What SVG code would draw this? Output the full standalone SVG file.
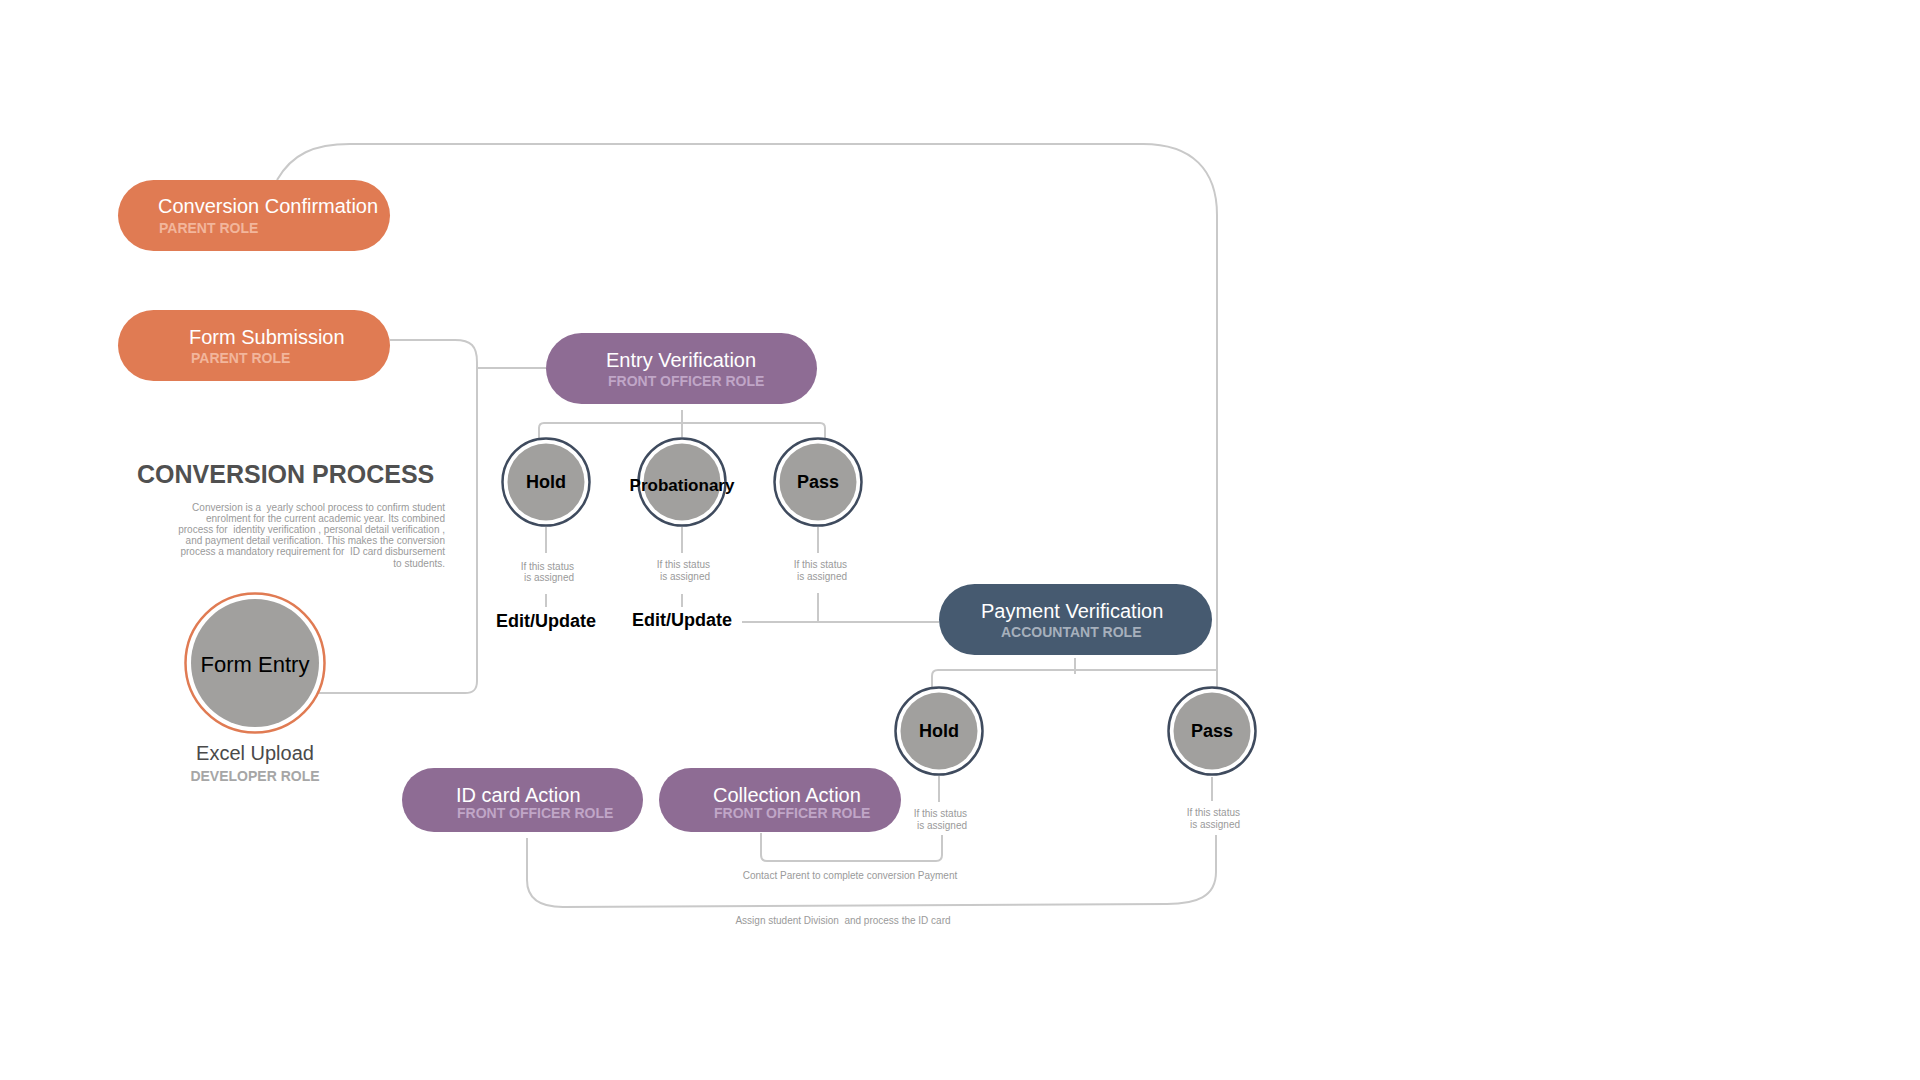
<svg xmlns="http://www.w3.org/2000/svg" width="1920" height="1080" viewBox="0 0 1920 1080" xml:space="preserve">
<defs>
<style>
text{font-family:"Liberation Sans",Arial,Helvetica,sans-serif}
.bg{fill:#ffffff}
.ln{fill:none;stroke:#c9c9c9;stroke-width:2}
.orange{fill:#e07b53}
.purple{fill:#8e6c94}
.navy{fill:#465a70}
.ttl{font-size:20px;fill:#ffffff}
.sub{font-size:14px;font-weight:bold}
.sub-o{fill:#f2b69c}
.sub-p{fill:#c0a6c7}
.sub-n{fill:#a6b0bc}
.ring{fill:#ffffff;stroke:#3f4b5e;stroke-width:2.5}
.ring-o{fill:#ffffff;stroke:#e07b53;stroke-width:2.5}
.core{fill:#a1a09e}
.st{font-size:18px;font-weight:bold;fill:#000000;text-anchor:middle}
.note{font-size:10px;fill:#9a9a9a}
.end{text-anchor:end}
.mid{text-anchor:middle}
.pre{white-space:pre}
</style>
</defs>
<rect class="bg" x="0" y="0" width="1920" height="1080"/>
<g id="connectors">
<path class="ln" d="M277,180 C292,154 314,144 350,144 H1143 C1192,144 1217,170 1217,215 V687"/>
<path class="ln" d="M390,340 H455 C471,340 477,346 477,362 V681 C477,690 473,693 465,693 H318"/>
<path class="ln" d="M477,368 H546"/>
<path class="ln" d="M682,410 V437"/>
<path class="ln" d="M539,438 V428 Q539,423 544,423 H820 Q825,423 825,428 V438"/>
<path class="ln" d="M546,527 V553 M546,594 V607"/>
<path class="ln" d="M682,527 V553 M682,594 V607"/>
<path class="ln" d="M818,527 V553 M818,593 V622"/>
<path class="ln" d="M742,622 H939"/>
<path class="ln" d="M1075,658 V674"/>
<path class="ln" d="M932,687 V676 Q932,670 938,670 H1217"/>
<path class="ln" d="M939,776 V802"/>
<path class="ln" d="M1212,777 V801"/>
<path class="ln" d="M942,835 V855 Q942,861 936,861 H767 Q761,861 761,855 V833"/>
<path class="ln" d="M1216,835 V872 C1216,897 1196,904 1167,904 L563,907 C538,907 527,897 527,880 V838"/>
<g id="status-labels">
<text class="note end" x="574" y="570">If this status</text>
<text class="note end" x="574" y="581">is assigned</text>
<text class="note end" x="710" y="568">If this status</text>
<text class="note end" x="710" y="580">is assigned</text>
<text class="note end" x="847" y="568">If this status</text>
<text class="note end" x="847" y="580">is assigned</text>
<text class="note end" x="967" y="817">If this status</text>
<text class="note end" x="967" y="829">is assigned</text>
<text class="note end" x="1240" y="816">If this status</text>
<text class="note end" x="1240" y="828">is assigned</text>
<text class="note mid" x="850" y="879">Contact Parent to complete conversion Payment</text>
<text class="note mid pre" x="843" y="924">Assign student Division  and process the ID card</text>
</g>
</g>
<g id="title">
<text x="137" y="483" style="font-size:25px;font-weight:bold;fill:#505050">CONVERSION PROCESS</text>
<text class="note end pre" x="445" y="511">Conversion is a  yearly school process to confirm student</text>
<text class="note end pre" x="445" y="522">enrolment for the current academic year. Its combined</text>
<text class="note end pre" x="445" y="533">process for  identity verification , personal detail verification ,</text>
<text class="note end pre" x="445" y="544">and payment detail verification. This makes the conversion</text>
<text class="note end pre" x="445" y="555">process a mandatory requirement for  ID card disbursement</text>
<text class="note end pre" x="445" y="567">to students.</text>
</g>
<g id="node-conversion-confirmation">
<rect class="orange" x="118" y="180" width="272" height="71" rx="35.5"/>
<text class="ttl" x="158" y="213">Conversion Confirmation</text>
<text class="sub sub-o" x="159" y="233">PARENT ROLE</text>
</g>
<g id="node-form-submission">
<rect class="orange" x="118" y="310" width="272" height="71" rx="35.5"/>
<text class="ttl" x="189" y="344">Form Submission</text>
<text class="sub sub-o" x="191" y="363">PARENT ROLE</text>
</g>
<g id="node-entry-verification">
<rect class="purple" x="546" y="333" width="271" height="71" rx="35.5"/>
<text class="ttl" x="606" y="367">Entry Verification</text>
<text class="sub sub-p" x="608" y="386">FRONT OFFICER ROLE</text>
</g>
<g id="node-entry-hold">
<circle class="ring" cx="546" cy="482" r="43.5"/>
<circle class="core" cx="546" cy="482" r="38.5"/>
<text class="st" x="546" y="488">Hold</text>
</g>
<g id="node-entry-probationary">
<circle class="ring" cx="682" cy="482" r="43.5"/>
<circle class="core" cx="682" cy="482" r="38.5"/>
<text class="st" x="682" y="491" style="font-size:17px">Probationary</text>
</g>
<g id="node-entry-pass">
<circle class="ring" cx="818" cy="482" r="43.5"/>
<circle class="core" cx="818" cy="482" r="38.5"/>
<text class="st" x="818" y="488">Pass</text>
</g>
<g id="node-edit-update-1">
<text class="st" x="546" y="627">Edit/Update</text>
</g>
<g id="node-edit-update-2">
<text class="st" x="682" y="626">Edit/Update</text>
</g>
<g id="node-form-entry">
<circle class="ring-o" cx="255" cy="663" r="69.5"/>
<circle class="core" cx="255" cy="663" r="64"/>
<text x="255" y="672" style="font-size:22px;fill:#000000;text-anchor:middle">Form Entry</text>
<text x="255" y="760" style="font-size:20px;fill:#4a4a4a;text-anchor:middle">Excel Upload</text>
<text x="255" y="781" style="font-size:14px;font-weight:bold;fill:#a6a6a6;text-anchor:middle">DEVELOPER ROLE</text>
</g>
<g id="node-payment-verification">
<rect class="navy" x="939" y="584" width="273" height="71" rx="35.5"/>
<text class="ttl" x="981" y="618">Payment Verification</text>
<text class="sub sub-n" x="1001" y="637">ACCOUNTANT ROLE</text>
</g>
<g id="node-payment-hold">
<circle class="ring" cx="939" cy="731" r="43.5"/>
<circle class="core" cx="939" cy="731" r="38.5"/>
<text class="st" x="939" y="737">Hold</text>
</g>
<g id="node-payment-pass">
<circle class="ring" cx="1212" cy="731" r="43.5"/>
<circle class="core" cx="1212" cy="731" r="38.5"/>
<text class="st" x="1212" y="737">Pass</text>
</g>
<g id="node-id-card-action">
<rect class="purple" x="402" y="768" width="241" height="64" rx="32"/>
<text class="ttl" x="456" y="802">ID card Action</text>
<text class="sub sub-p" x="457" y="818">FRONT OFFICER ROLE</text>
</g>
<g id="node-collection-action">
<rect class="purple" x="659" y="768" width="242" height="64" rx="32"/>
<text class="ttl" x="713" y="802">Collection Action</text>
<text class="sub sub-p" x="714" y="818">FRONT OFFICER ROLE</text>
</g>
</svg>
